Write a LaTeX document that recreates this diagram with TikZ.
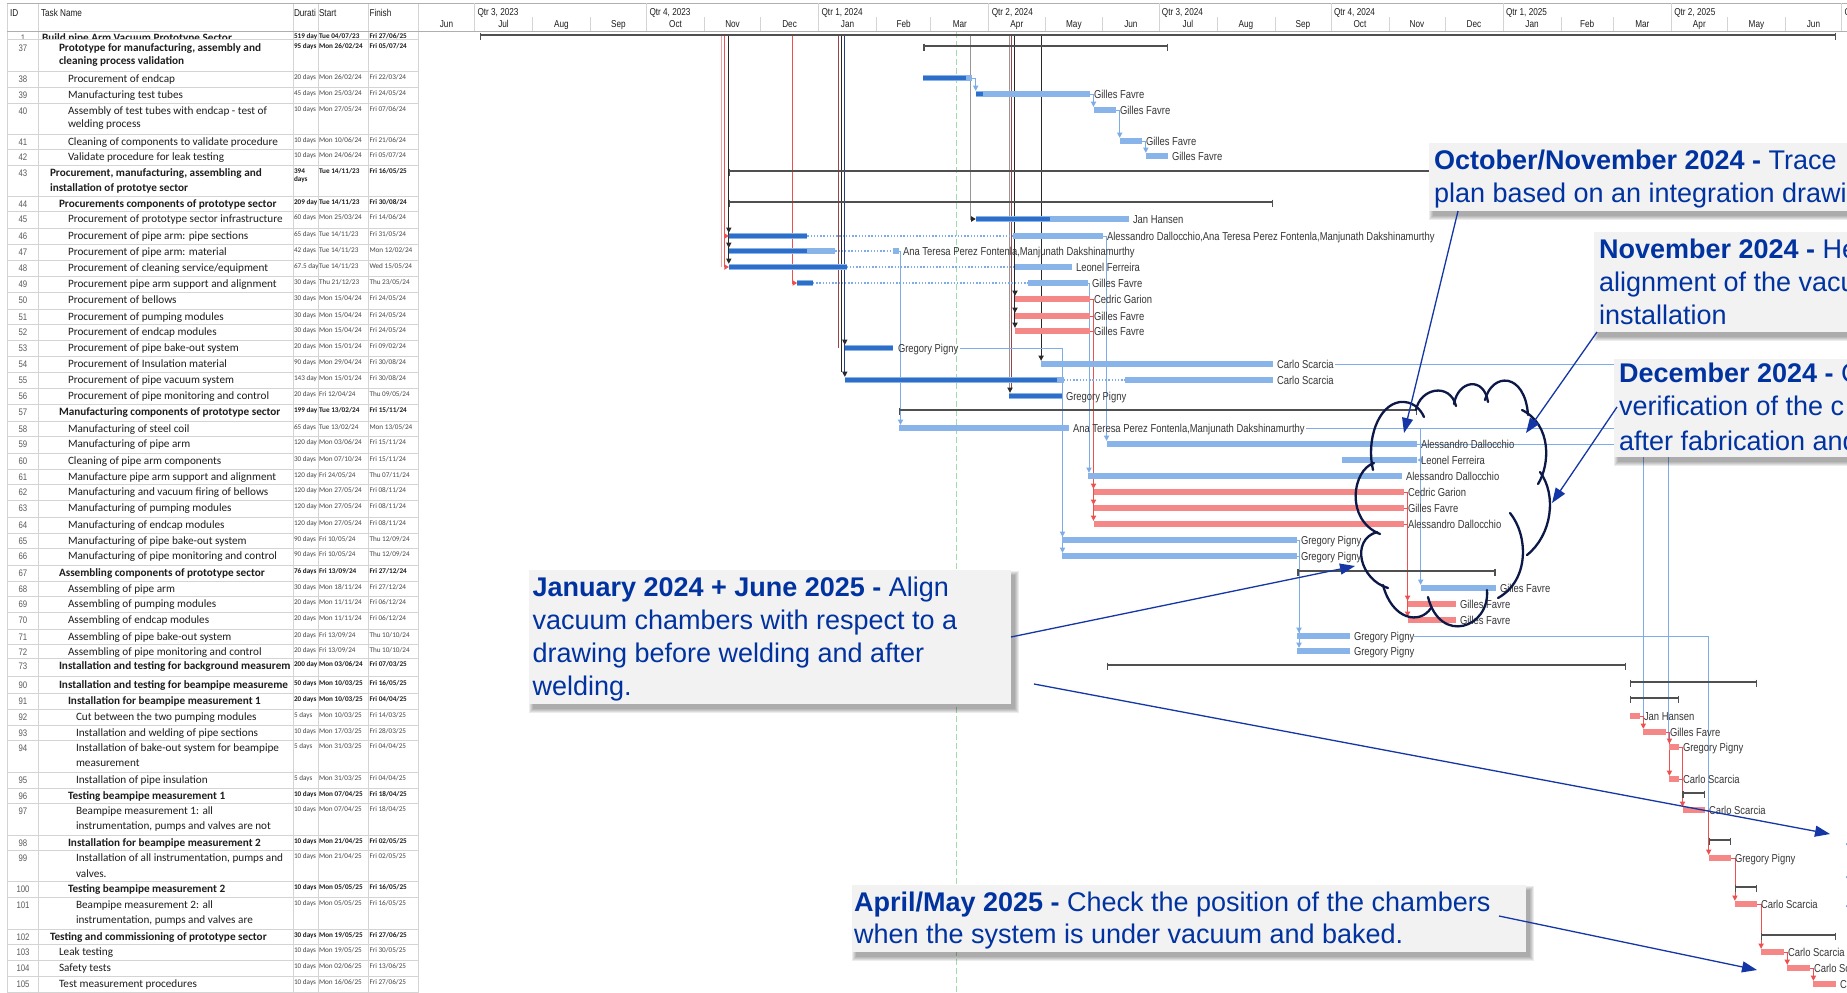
\documentclass[tikz,border=0pt]{standalone}
\usepackage{fontspec}
\setmainfont{Liberation Sans}
\newfontfamily\calib{Carlito}
\newfontfamily\narrowf[FakeStretch=0.82]{Liberation Sans}
\usetikzlibrary{arrows.meta}

\definecolor{gridcol}{RGB}{212,212,212}
\definecolor{hdrcol}{RGB}{175,175,175}
\definecolor{tabtxt}{RGB}{30,30,30}
\definecolor{datetxt}{RGB}{70,70,70}
\definecolor{idgray}{RGB}{90,90,90}
\definecolor{lbarc}{RGB}{137,180,234}
\definecolor{dbarc}{RGB}{44,110,200}
\definecolor{rbarc}{RGB}{245,135,135}
\definecolor{sumc}{RGB}{80,80,80}
\definecolor{lnkbc}{RGB}{125,172,232}
\definecolor{lnkrc}{RGB}{238,80,80}
\definecolor{lnklrc}{RGB}{245,160,160}
\definecolor{lnkkc}{RGB}{40,40,40}
\definecolor{lnkgc}{RGB}{150,150,150}
\definecolor{lnkdrc}{RGB}{150,70,70}
\definecolor{lnkdbc}{RGB}{40,60,130}
\definecolor{labc}{RGB}{55,55,55}
\definecolor{statc}{RGB}{160,220,170}
\definecolor{boxc}{RGB}{242,242,242}
\definecolor{ctxt}{RGB}{0,50,160}
\definecolor{carrow}{RGB}{20,55,165}
\definecolor{cloudc}{RGB}{12,24,72}

\tikzset{
  every node/.style={inner sep=0pt,outer sep=0pt},
  gridln/.style={draw=gridcol,line width=0.7pt},
  hdrln/.style={draw=hdrcol,line width=1pt},
  hdrtxt/.style={anchor=base west,font=\narrowf\fontsize{10}{11}\selectfont,text=tabtxt},
  scaletxt/.style={anchor=base,font=\narrowf\fontsize{10}{11}\selectfont,text=tabtxt},
  idtxt/.style={anchor=base,font=\narrowf\fontsize{9.5}{10}\selectfont,text=idgray},
  nm/.style={anchor=base west,font=\calib\fontsize{11.2}{13}\selectfont,text=tabtxt},
  nb/.style={anchor=base west,font=\calib\bfseries\fontsize{11.2}{13}\selectfont,text=tabtxt},
  nmd/.style={anchor=base west,font=\calib\fontsize{7.2}{8}\selectfont,text=datetxt},
  nbd/.style={anchor=base west,font=\calib\bfseries\fontsize{7.2}{8}\selectfont,text=tabtxt},
  glab/.style={anchor=base west,font=\narrowf\fontsize{11.5}{12}\selectfont,text=labc},
  lnkb/.style={draw=lnkbc,line width=0.8pt},
  lnkr/.style={draw=lnkrc,line width=0.8pt},
  lnklr/.style={draw=lnklrc,line width=0.8pt},
  lnkk/.style={draw=lnkkc,line width=0.8pt},
  lnkg/.style={draw=lnkgc,line width=0.8pt},
  lnkdr/.style={draw=lnkdrc,line width=0.8pt},
  lnkdb/.style={draw=lnkdbc,line width=0.8pt},
  callbox/.style={fill=boxc,anchor=north west},
  ctext/.style={anchor=base west,font=\fontsize{27}{33}\selectfont,text=ctxt},
  callarrow/.style={draw=carrow,line width=1.3pt,-{Triangle[length=15pt,width=11pt]}},
  cloudln/.style={draw=cloudc,line width=2.3pt,line cap=round},
}

% table row: id, y, indent, style, name, duration, start, finish
\newcommand\trow[8]{%
  \node[idtxt] (id#1) at (23,#2+3.4) {#1};
  \begin{scope}
    \clip (38,0) rectangle (292.5,993);
    \node[#4] (tn#1) at (#3,#2+3.7) {#5};
  \end{scope}
  \node[#4d] (du#1) at (294,#2+0.9) {#6};
  \node[#4d] (st#1) at (319,#2+0.9) {#7};
  \node[#4d] (fi#1) at (369.5,#2+0.9) {#8};
}
% gantt pieces: x1, x2, y
\newcommand\gbLight[3]{\fill[lbarc] (#1,#3-3) rectangle (#2,#3+3);}
\newcommand\gbDone[3]{\fill[dbarc] (#1,#3-2.2) rectangle (#2,#3+2.2);}
\newcommand\gbCrit[3]{\fill[rbarc] (#1,#3-3) rectangle (#2,#3+3);}
\newcommand\gbSum[3]{\draw[sumc,line width=2.2pt] (#1,#3) -- (#2,#3);
  \draw[sumc,line width=1.3pt] (#1+0.6,#3-2.5) -- (#1+0.6,#3+4.5) (#2-0.6,#3-2.5) -- (#2-0.6,#3+4.5);}
\newcommand\gbGap[3]{\draw[lnkbc,line width=1.3pt,dash pattern=on 1.3pt off 1.9pt] (#1,#3) -- (#2,#3);}
% link arrowheads: colour, x, bar y
\newcommand\lkdown[3]{\fill[#1] (#2-2.8,#3-8.5) -- (#2+2.8,#3-8.5) -- (#2,#3-3.2) -- cycle;}
\newcommand\lkright[3]{\fill[#1] (#2-4.5,#3-2.8) -- (#2-4.5,#3+2.8) -- (#2,#3) -- cycle;}
\newcommand\lkleft[3]{\fill[#1] (#2+4.5,#3-2.8) -- (#2+4.5,#3+2.8) -- (#2,#3) -- cycle;}
\newcommand\glab[4]{\node[glab] (#1) at (#2,#3+4) {#4};}
\newcommand\softshadow[4]{\foreach \k in {0,1,2,3,4}{\fill[black,opacity=0.075] (#1+4-\k,#2+5-\k) rectangle (#3+4+\k,#4+5+\k);}}

\begin{document}
\begin{tikzpicture}[x=1pt,y=-1pt]
\useasboundingbox (0,0) rectangle (1847,993);
\clip (0,0) rectangle (1847,993);
\fill[white] (0,0) rectangle (1847,993);

% ---------------- table grid
\draw[gridln] (7,3) -- (7,993);
\foreach \xx in {38,293,318,368,418} \draw[gridln] (\xx,3) -- (\xx,993);
\draw[hdrln] (7,3) -- (1847,3);
\foreach \yy in {39,71,87,103,134,149,165,196,211.5,228,244,260,276,292,309,324,340,356,372,388,404,421,436,453,469,484,500,517,533,548,565,581,596,612,629,644,658.5,676,693,709,725,740,772,788,803,835,850,881,897,929,944,960,976,992}
  \draw[gridln] (7,\yy) -- (418,\yy);

% table header
\node[hdrtxt] (hID) at (10,16.5) {ID};
\node[hdrtxt] (hName) at (41,16.5) {Task Name};
\node[hdrtxt] (hDur) at (294,16.5) {Durati};
\node[hdrtxt] (hStart) at (319,16.5) {Start};
\node[hdrtxt] (hFin) at (369.5,16.5) {Finish};

% ---------------- timescale header
\foreach \qx in {474.5,646.5,818.6,988.8,1158.9,1331.0,1503.0,1671.3,1841.5}
  \draw[gridln] (\qx,3) -- (\qx,31);
\foreach \qx/\qt [count=\i] in {474.5/{Qtr 3, 2023},646.5/{Qtr 4, 2023},818.6/{Qtr 1, 2024},988.8/{Qtr 2, 2024},1158.9/{Qtr 3, 2024},1331.0/{Qtr 4, 2024},1503.0/{Qtr 1, 2025},1671.3/{Qtr 2, 2025},1841.5/{Q}}
  \node[hdrtxt] (qtr\i) at (\qx+3,15.5) {\qt};
\foreach \ma/\mb/\mn [count=\i] in {418.4/474.5/Jun,474.5/532.5/Jul,532.5/590.4/Aug,590.4/646.5/Sep,646.5/704.5/Oct,704.5/760.6/Nov,760.6/818.6/Dec,818.6/876.6/Jan,876.6/930.8/Feb,930.8/988.8/Mar,988.8/1044.9/Apr,1044.9/1102.8/May,1102.8/1158.9/Jun,1158.9/1216.9/Jul,1216.9/1274.9/Aug,1274.9/1331.0/Sep,1331.0/1388.9/Oct,1388.9/1445.0/Nov,1445.0/1503.0/Dec,1503.0/1561.0/Jan,1561.0/1613.3/Feb,1613.3/1671.3/Mar,1671.3/1727.4/Apr,1727.4/1785.4/May,1785.4/1841.5/Jun}
{
  \draw[gridln] (\mb,17) -- (\mb,31);
  \node[scaletxt] (mon\i) at ({(\ma+\mb)/2},27.2) {\mn};
}
\draw[hdrln] (7,31) -- (1847,31);

% ---------------- table rows
\begin{scope}
  \clip (7,32) rectangle (418,38.5);
  \node[idtxt] (id1) at (23,41.4) {1};
  \node[nb] (tn1) at (42,41.7) {Build pipe Arm Vacuum Prototype Sector};
  \node[nbd] (du1) at (294,38.9) {519 day};
  \node[nbd] (st1) at (319,38.9) {Tue 04/07/23};
  \node[nbd] (fi1) at (369.5,38.9) {Fri 27/06/25};
\end{scope}
\trow{37}{48}{59}{nb}{Prototype for manufacturing, assembly and}{95 days}{Mon 26/02/24}{Fri 05/07/24}
\node[nb] (tn37b) at (59,64.7) {cleaning process validation};
\trow{38}{79}{68}{nm}{Procurement of endcap}{20 days}{Mon 26/02/24}{Fri 22/03/24}
\trow{39}{95}{68}{nm}{Manufacturing test tubes}{45 days}{Mon 25/03/24}{Fri 24/05/24}
\trow{40}{111}{68}{nm}{Assembly of test tubes with endcap - test of}{10 days}{Mon 27/05/24}{Fri 07/06/24}
\node[nm] (tn40b) at (68,127.7) {welding process};
\trow{41}{142}{68}{nm}{Cleaning of components to validate procedure}{10 days}{Mon 10/06/24}{Fri 21/06/24}
\trow{42}{157}{68}{nm}{Validate procedure for leak testing}{10 days}{Mon 24/06/24}{Fri 05/07/24}
\trow{43}{173}{50}{nb}{Procurement, manufacturing, assembling and}{394}{Tue 14/11/23}{Fri 16/05/25}
\node[nb] (tn43b) at (50,191.7) {installation of prototye sector};
\node[nbd] (du43b) at (294,181.9) {days};
\trow{44}{204}{59}{nb}{Procurements components of prototype sector}{209 day}{Tue 14/11/23}{Fri 30/08/24}
\trow{45}{219}{68}{nm}{Procurement of prototype sector infrastructure}{60 days}{Mon 25/03/24}{Fri 14/06/24}
\trow{46}{236}{68}{nm}{Procurement of pipe arm: pipe sections}{65 days}{Tue 14/11/23}{Fri 31/05/24}
\trow{47}{252}{68}{nm}{Procurement of pipe arm: material}{42 days}{Tue 14/11/23}{Mon 12/02/24}
\trow{48}{268}{68}{nm}{Procurement of cleaning service/equipment}{67.5 day}{Tue 14/11/23}{Wed 15/05/24}
\trow{49}{284}{68}{nm}{Procurement pipe arm support and alignment}{30 days}{Thu 21/12/23}{Thu 23/05/24}
\trow{50}{300}{68}{nm}{Procurement of bellows}{30 days}{Mon 15/04/24}{Fri 24/05/24}
\trow{51}{317}{68}{nm}{Procurement of pumping modules}{30 days}{Mon 15/04/24}{Fri 24/05/24}
\trow{52}{332}{68}{nm}{Procurement of endcap modules}{30 days}{Mon 15/04/24}{Fri 24/05/24}
\trow{53}{348}{68}{nm}{Procurement of pipe bake-out system}{20 days}{Mon 15/01/24}{Fri 09/02/24}
\trow{54}{364}{68}{nm}{Procurement of Insulation material}{90 days}{Mon 29/04/24}{Fri 30/08/24}
\trow{55}{380}{68}{nm}{Procurement of pipe vacuum system}{143 day}{Mon 15/01/24}{Fri 30/08/24}
\trow{56}{396}{68}{nm}{Procurement of pipe monitoring and control}{20 days}{Fri 12/04/24}{Thu 09/05/24}
\trow{57}{412}{59}{nb}{Manufacturing components of prototype sector}{199 day}{Tue 13/02/24}{Fri 15/11/24}
\trow{58}{429}{68}{nm}{Manufacturing of steel coil}{65 days}{Tue 13/02/24}{Mon 13/05/24}
\trow{59}{444}{68}{nm}{Manufacturing of pipe arm}{120 day}{Mon 03/06/24}{Fri 15/11/24}
\trow{60}{461}{68}{nm}{Cleaning of pipe arm components}{30 days}{Mon 07/10/24}{Fri 15/11/24}
\trow{61}{477}{68}{nm}{Manufacture pipe arm support and alignment}{120 day}{Fri 24/05/24}{Thu 07/11/24}
\trow{62}{492}{68}{nm}{Manufacturing and vacuum firing of bellows}{120 day}{Mon 27/05/24}{Fri 08/11/24}
\trow{63}{508}{68}{nm}{Manufacturing of pumping modules}{120 day}{Mon 27/05/24}{Fri 08/11/24}
\trow{64}{525}{68}{nm}{Manufacturing of endcap modules}{120 day}{Mon 27/05/24}{Fri 08/11/24}
\trow{65}{541}{68}{nm}{Manufacturing of pipe bake-out system}{90 days}{Fri 10/05/24}{Thu 12/09/24}
\trow{66}{556}{68}{nm}{Manufacturing of pipe monitoring and control}{90 days}{Fri 10/05/24}{Thu 12/09/24}
\trow{67}{573}{59}{nb}{Assembling components of prototype sector}{76 days}{Fri 13/09/24}{Fri 27/12/24}
\trow{68}{589}{68}{nm}{Assembling of pipe arm}{30 days}{Mon 18/11/24}{Fri 27/12/24}
\trow{69}{604}{68}{nm}{Assembling of pumping modules}{20 days}{Mon 11/11/24}{Fri 06/12/24}
\trow{70}{620}{68}{nm}{Assembling of endcap modules}{20 days}{Mon 11/11/24}{Fri 06/12/24}
\trow{71}{637}{68}{nm}{Assembling of pipe bake-out system}{20 days}{Fri 13/09/24}{Thu 10/10/24}
\trow{72}{652}{68}{nm}{Assembling of pipe monitoring and control}{20 days}{Fri 13/09/24}{Thu 10/10/24}
\trow{73}{666}{59}{nb}{Installation and testing for background measurem}{200 day}{Mon 03/06/24}{Fri 07/03/25}
\trow{90}{685}{59}{nb}{Installation and testing for beampipe measureme}{50 days}{Mon 10/03/25}{Fri 16/05/25}
\trow{91}{701}{68}{nb}{Installation for beampipe measurement 1}{20 days}{Mon 10/03/25}{Fri 04/04/25}
\trow{92}{717}{76}{nm}{Cut between the two pumping modules}{5 days}{Mon 10/03/25}{Fri 14/03/25}
\trow{93}{733}{76}{nm}{Installation and welding of pipe sections}{10 days}{Mon 17/03/25}{Fri 28/03/25}
\trow{94}{748}{76}{nm}{Installation of bake-out system for beampipe}{5 days}{Mon 31/03/25}{Fri 04/04/25}
\node[nm] (tn94b) at (76,766.7) {measurement};
\trow{95}{780}{76}{nm}{Installation of pipe insulation}{5 days}{Mon 31/03/25}{Fri 04/04/25}
\trow{96}{796}{68}{nb}{Testing beampipe measurement 1}{10 days}{Mon 07/04/25}{Fri 18/04/25}
\trow{97}{811}{76}{nm}{Beampipe measurement 1: all}{10 days}{Mon 07/04/25}{Fri 18/04/25}
\node[nm] (tn97b) at (76,829.7) {instrumentation, pumps and valves are not};
\trow{98}{843}{68}{nb}{Installation for beampipe measurement 2}{10 days}{Mon 21/04/25}{Fri 02/05/25}
\trow{99}{858}{76}{nm}{Installation of all instrumentation, pumps and}{10 days}{Mon 21/04/25}{Fri 02/05/25}
\node[nm] (tn99b) at (76,877.7) {valves.};
\trow{100}{889}{68}{nb}{Testing beampipe measurement 2}{10 days}{Mon 05/05/25}{Fri 16/05/25}
\trow{101}{905}{76}{nm}{Beampipe measurement 2: all}{10 days}{Mon 05/05/25}{Fri 16/05/25}
\node[nm] (tn101b) at (76,923.7) {instrumentation, pumps and valves are};
\trow{102}{937}{50}{nb}{Testing and commissioning of prototype sector}{30 days}{Mon 19/05/25}{Fri 27/06/25}
\trow{103}{952}{59}{nm}{Leak testing}{10 days}{Mon 19/05/25}{Fri 30/05/25}
\trow{104}{968}{59}{nm}{Safety tests}{10 days}{Mon 02/06/25}{Fri 13/06/25}
\trow{105}{984}{59}{nm}{Test measurement procedures}{10 days}{Mon 16/06/25}{Fri 27/06/25}

% ---------------- status date
\draw[statc,line width=0.9pt,dash pattern=on 6pt off 3pt] (956.5,32) -- (956.5,993);

% ---------------- dependency lines from earlier tasks
\draw[lnklr] (721.5,36) -- (721.5,267);
\draw[lnkr] (724.5,36) -- (724.5,267);
\draw[lnkk] (728.3,36) -- (728.3,259);
\draw[lnkr] (792.5,36) -- (792.5,283) -- (794,283);
\draw[lnkdr] (838.5,36) -- (838.5,348);
\draw[lnkk] (841.5,36) -- (841.5,372);
\draw[lnkdb] (844.5,36) -- (844.5,372);
\draw[lnkg] (970,36) -- (970,219) -- (972,219);
\draw[lnkg] (1009.3,36) -- (1009.3,388);
\draw[lnkdr] (1011.8,36) -- (1011.8,388);
\draw[lnkk] (1014.6,36) -- (1014.6,323);
\draw[lnkk] (1041.1,36) -- (1041.1,356);

% task to task links
\draw[lnkb] (971.9,78) -| (975.7,86);
\draw[lnkb] (1089.7,94) -| (1093.5,102);
\draw[lnkb] (1115.9,110) -| (1119.7,133);
\draw[lnkb] (1142.1,141) -| (1145.8,148);
\draw[lnkb] (899,251) -| (900.5,420);
\draw[lnkb] (960,348) -| (1062.5,548);
\draw[lnkb] (1087.9,283) -| (1089,468);
\draw[lnkr] (1089.7,299) -| (1093.5,516);
\draw[lnkr] (1089.7,316) -- (1093.5,316) (1089.7,331) -- (1093.5,331);
\draw[lnkb] (1102.8,236) -| (1106.3,436);
\draw[lnkb] (1306,428) -| (1643.3,724);
\draw[lnkb] (1420.7,428) -- (1420.7,580);
\draw[lnkb] (1420.7,460) -- (1422,460);
\draw[lnkb] (1417,444) -| (1668.5,740);
\draw[lnkb] (1335,364) -| (1668.5,444);
\draw[lnkb] (1297.3,540) -| (1299,643);
\draw[lnkb] (1297.3,556) -- (1299,556);
\draw[lnkb] (1414,636) -| (1708.7,810);
\draw[lnkr] (1403.9,492) -| (1407.6,612);
\draw[lnkr] (1403.9,508) -- (1407.6,508) (1403.9,524) -- (1407.6,524);
\draw[lnkr] (1639.5,716) -| (1643.3,724);
\draw[lnkr] (1665.7,732) -| (1669.4,771);
\draw[lnkr] (1678.8,747) -| (1682.5,802);
\draw[lnkr] (1678.8,779) -- (1682.5,779);
\draw[lnkr] (1705,810) -| (1708.7,850);
\draw[lnkr] (1731.1,858) -| (1734.9,896);
\draw[lnkr] (1757.3,904) -| (1761.1,944);
\draw[lnkr] (1783.5,952) -| (1787.2,960);
\draw[lnkr] (1809.7,968) -| (1813.4,976);

% arrowheads
\lkright{lnkrc}{728.8}{236} \lkright{lnkrc}{728.8}{267}
\lkdown{lnkkc}{728.8}{236} \lkdown{lnkkc}{728.8}{251} \lkdown{lnkkc}{728.8}{267}
\lkright{lnkrc}{797.1}{283}
\lkdown{lnkkc}{844.8}{348} \lkdown{lnkkc}{844.8}{380}
\lkright{lnkkc}{975.7}{219}
\lkdown{lnkkc}{1015}{299} \lkdown{lnkkc}{1015}{316} \lkdown{lnkkc}{1015}{331}
\lkdown{lnkkc}{1010}{396}
\lkdown{lnkkc}{1041.1}{364}
\lkdown{lnkbc}{975.7}{94} \lkdown{lnkbc}{1093.5}{110} \lkdown{lnkbc}{1119.7}{141} \lkdown{lnkbc}{1145.8}{156}
\lkdown{lnkbc}{900.5}{428}
\lkdown{lnkbc}{1062.5}{540} \lkdown{lnkbc}{1062.5}{556}
\lkdown{lnkbc}{1089}{476}
\lkdown{lnkrc}{1093.5}{492} \lkdown{lnkrc}{1093.5}{508} \lkdown{lnkrc}{1093.5}{524}
\lkdown{lnkbc}{1106.6}{444}
\lkdown{lnkbc}{1420.7}{588}
\lkleft{lnkbc}{1417.5}{460}
\lkdown{lnkbc}{1299}{636} \lkdown{lnkbc}{1299}{651}
\lkdown{lnkrc}{1407.6}{604} \lkdown{lnkrc}{1407.6}{620}
\lkdown{lnkrc}{1643.3}{732}
\lkdown{lnkrc}{1669.4}{747} \lkdown{lnkrc}{1669.4}{779}
\lkdown{lnkrc}{1682.5}{810}
\lkdown{lnkrc}{1708.7}{858}
\lkdown{lnkrc}{1734.9}{904}
\lkdown{lnkrc}{1761.1}{952}
\lkdown{lnkrc}{1787.2}{968}
\lkdown{lnkrc}{1813.4}{984}

% ---------------- bars
\gbSum{480.1}{1835.9}{35}
\gbSum{923.3}{1168.3}{46}
\gbLight{923.3}{971.9}{78} \gbDone{923.3}{966}{78}
\gbLight{975.7}{1089.7}{94} \gbDone{975.7}{983}{94}
\gbLight{1093.5}{1115.9}{110}
\gbLight{1119.7}{1142.1}{141}
\gbLight{1145.8}{1168.3}{156}
\gbSum{728.8}{1757.3}{171}
\gbSum{728.8}{1273}{202}
\gbLight{975.7}{1129}{219} \gbDone{975.7}{1050}{219}
\gbLight{728.8}{807.4}{236} \gbDone{728.8}{807.4}{236} \gbGap{807.4}{1013.1}{236} \gbLight{1013.1}{1102.8}{236}
\gbLight{728.8}{835.4}{251} \gbDone{728.8}{807.4}{251} \gbGap{835.4}{893.4}{251} \gbLight{893.4}{899}{251}
\gbLight{728.8}{846.6}{267} \gbDone{728.8}{846.6}{267} \gbGap{846.6}{1015}{267} \gbLight{1015}{1071.9}{267}
\gbLight{797.1}{813}{283} \gbDone{797.1}{813}{283} \gbGap{813}{1028}{283} \gbLight{1028}{1087.9}{283}
\gbCrit{1015}{1089.7}{299}
\gbCrit{1015}{1089.7}{316}
\gbCrit{1015}{1089.7}{331}
\gbLight{844.8}{893.4}{348} \gbDone{844.8}{893.4}{348}
\gbLight{1041.1}{1273}{364}
\gbLight{844.8}{1063.6}{380} \gbDone{844.8}{1057}{380} \gbGap{1063.6}{1125.3}{380} \gbLight{1125.3}{1273}{380}
\gbLight{1009.3}{1061.7}{396} \gbDone{1009.3}{1061.7}{396}
\gbSum{899}{1417}{410}
\gbLight{899}{1069.2}{428}
\gbLight{1106.6}{1417}{444}
\gbLight{1342.2}{1417}{460}
\gbLight{1087.9}{1402}{476}
\gbCrit{1093.5}{1403.9}{492}
\gbCrit{1093.5}{1403.9}{508}
\gbCrit{1093.5}{1403.9}{524}
\gbLight{1061.7}{1297.3}{540}
\gbLight{1061.7}{1297.3}{556}
\gbSum{1297.3}{1495.5}{571}
\gbLight{1420.7}{1495.5}{588}
\gbCrit{1407.6}{1456.3}{604}
\gbCrit{1407.6}{1456.3}{620}
\gbLight{1297.3}{1349.7}{636}
\gbLight{1297.3}{1349.7}{651}
\gbSum{1106.6}{1626.4}{665}
\gbSum{1630.2}{1757.3}{682}
\gbSum{1630.2}{1678.8}{698}
\gbCrit{1630.2}{1639.5}{716}
\gbCrit{1643.3}{1665.7}{732}
\gbCrit{1669.4}{1678.8}{747}
\gbCrit{1669.4}{1678.8}{779}
\gbSum{1682.5}{1705}{793}
\gbCrit{1682.5}{1705}{810}
\gbSum{1708.7}{1731.1}{840}
\gbCrit{1708.7}{1731.1}{858}
\gbSum{1734.9}{1757.3}{887}
\gbCrit{1734.9}{1757.3}{904}
\gbSum{1761.1}{1835.9}{935}
\gbCrit{1761.1}{1783.5}{952}
\gbCrit{1787.2}{1809.7}{968}
\gbCrit{1813.4}{1835.9}{984}

% ---------------- resource labels
\glab{l39}{1094}{94}{Gilles Favre}
\glab{l40}{1120}{110}{Gilles Favre}
\glab{l41}{1146}{141}{Gilles Favre}
\glab{l42}{1172}{156}{Gilles Favre}
\glab{l45}{1133}{219}{Jan Hansen}
\glab{l46}{1107}{236}{Alessandro Dallocchio,Ana Teresa Perez Fontenla,Manjunath Dakshinamurthy}
\glab{l47}{903}{251}{Ana Teresa Perez Fontenla,Manjunath Dakshinamurthy}
\glab{l48}{1076}{267}{Leonel Ferreira}
\glab{l49}{1092}{283}{Gilles Favre}
\glab{l50}{1094}{299}{Cedric Garion}
\glab{l51}{1094}{316}{Gilles Favre}
\glab{l52}{1094}{331}{Gilles Favre}
\glab{l53}{898}{348}{Gregory Pigny}
\glab{l54}{1277}{364}{Carlo Scarcia}
\glab{l55}{1277}{380}{Carlo Scarcia}
\glab{l56}{1066}{396}{Gregory Pigny}
\glab{l58}{1073}{428}{Ana Teresa Perez Fontenla,Manjunath Dakshinamurthy}
\glab{l59}{1421}{444}{Alessandro Dallocchio}
\glab{l60}{1421}{460}{Leonel Ferreira}
\glab{l61}{1406}{476}{Alessandro Dallocchio}
\glab{l62}{1408}{492}{Cedric Garion}
\glab{l63}{1408}{508}{Gilles Favre}
\glab{l64}{1408}{524}{Alessandro Dallocchio}
\glab{l65}{1301}{540}{Gregory Pigny}
\glab{l66}{1301}{556}{Gregory Pigny}
\glab{l68}{1500}{588}{Gilles Favre}
\glab{l69}{1460}{604}{Gilles Favre}
\glab{l70}{1460}{620}{Gilles Favre}
\glab{l71}{1354}{636}{Gregory Pigny}
\glab{l72}{1354}{651}{Gregory Pigny}
\glab{l92}{1644}{716}{Jan Hansen}
\glab{l93}{1670}{732}{Gilles Favre}
\glab{l94}{1683}{747}{Gregory Pigny}
\glab{l95}{1683}{779}{Carlo Scarcia}
\glab{l97}{1709}{810}{Carlo Scarcia}
\glab{l99}{1735}{858}{Gregory Pigny}
\glab{l101}{1761}{904}{Carlo Scarcia}
\glab{l103}{1788}{952}{Carlo Scarcia}
\glab{l104}{1814}{968}{Carlo Sc}
\glab{l105}{1840}{984}{C}

% ---------------- call-out boxes
\softshadow{1429}{143}{1860}{211}
\softshadow{1594}{232}{1860}{332}
\softshadow{1614}{359}{1860}{457}
\softshadow{529}{570}{1011}{704}
\softshadow{852}{885}{1526}{952}
\node[callbox,minimum width=431pt,minimum height=68pt] (box1) at (1429,143) {};
\node[callbox,minimum width=266pt,minimum height=100pt] (box2) at (1594,232) {};
\node[callbox,minimum width=246pt,minimum height=98pt] (box3) at (1614,359) {};
\node[callbox,minimum width=482pt,minimum height=134pt] (box4) at (529,570) {};
\node[callbox,minimum width=674pt,minimum height=67pt] (box5) at (852,885) {};

\node[ctext] (b1l1) at (1434,169.5) {\textbf{October/November 2024 -} Trace};
\node[ctext] (b1l2) at (1434,202.5) {plan based on an integration drawi};
\node[ctext] (b2l1) at (1599,258) {\textbf{November 2024 -} He};
\node[ctext] (b2l2) at (1599,291) {alignment of the vacu};
\node[ctext] (b2l3) at (1599,324) {installation};
\node[ctext] (b3l1) at (1619,382.5) {\textbf{December 2024 -} C};
\node[ctext] (b3l2) at (1619,415.5) {verification of the c};
\node[ctext] (b3l3) at (1619,450) {after fabrication and};
\node[ctext] (b4l1) at (532.5,596) {\textbf{January 2024 + June 2025 -} Align};
\node[ctext] (b4l2) at (532.5,629) {vacuum chambers with respect to a};
\node[ctext] (b4l3) at (532.5,662) {drawing before welding and after};
\node[ctext] (b4l4) at (532.5,695) {welding.};
\node[ctext] (b5l1) at (854,911.5) {\textbf{April/May 2025 -} Check the position of the chambers};
\node[ctext] (b5l2) at (854,943.5) {when the system is under vacuum and baked.};
\node[ctext] (edge1) at (1845,848.5) {S};
\node[ctext] (edge2) at (1845,881.5) {S};
\node[ctext] (edge3) at (1845,910.5) {S};

% ---------------- cloud
\draw[cloudln] (1373,470) .. controls (1366,440) and (1378,405) .. (1400,402) .. controls (1412,401) and (1420,408) .. (1424,417);
\draw[cloudln] (1416,410) .. controls (1420,388) and (1450,382) .. (1456,406);
\draw[cloudln] (1454,404) .. controls (1458,380) and (1484,376) .. (1488,402);
\draw[cloudln] (1485,400) .. controls (1492,372) and (1525,372) .. (1528,415);
\draw[cloudln] (1522,410) .. controls (1552,425) and (1550,465) .. (1538,484);
\draw[cloudln] (1540,472) .. controls (1557,495) and (1552,535) .. (1527,555);
\draw[cloudln] (1510,513) .. controls (1528,535) and (1530,580) .. (1498,598);
\draw[cloudln] (1487,590) .. controls (1490,628) and (1440,645) .. (1428,597);
\draw[cloudln] (1431,608) .. controls (1420,625) and (1392,620) .. (1383,585);
\draw[cloudln] (1388,588) .. controls (1360,580) and (1350,540) .. (1377,532);
\draw[cloudln] (1380,534) .. controls (1345,520) and (1352,470) .. (1374,463);

% ---------------- call-out arrows
\coordinate (t1) at (1404,433);
\coordinate (t2) at (1526,433);
\coordinate (t3) at (1552,503);
\coordinate (t4) at (1355,566);
\coordinate (s5) at (1034,684);
\coordinate (t5) at (1830,834);
\coordinate (s6) at (1499,916);
\coordinate (t6) at (1757,970);
\draw[callarrow] ([xshift=29pt]box1.south west) -- (t1);
\draw[callarrow] ([xshift=3pt]box2.south west) -- (t2);
\draw[callarrow] ([xshift=3pt,yshift=1pt]box3.west) -- (t3);
\draw[callarrow] (box4.east) -- (t4);
\draw[callarrow] (s5) -- (t5);
\draw[callarrow] (s6) -- (t6);
\end{tikzpicture}
\end{document}
